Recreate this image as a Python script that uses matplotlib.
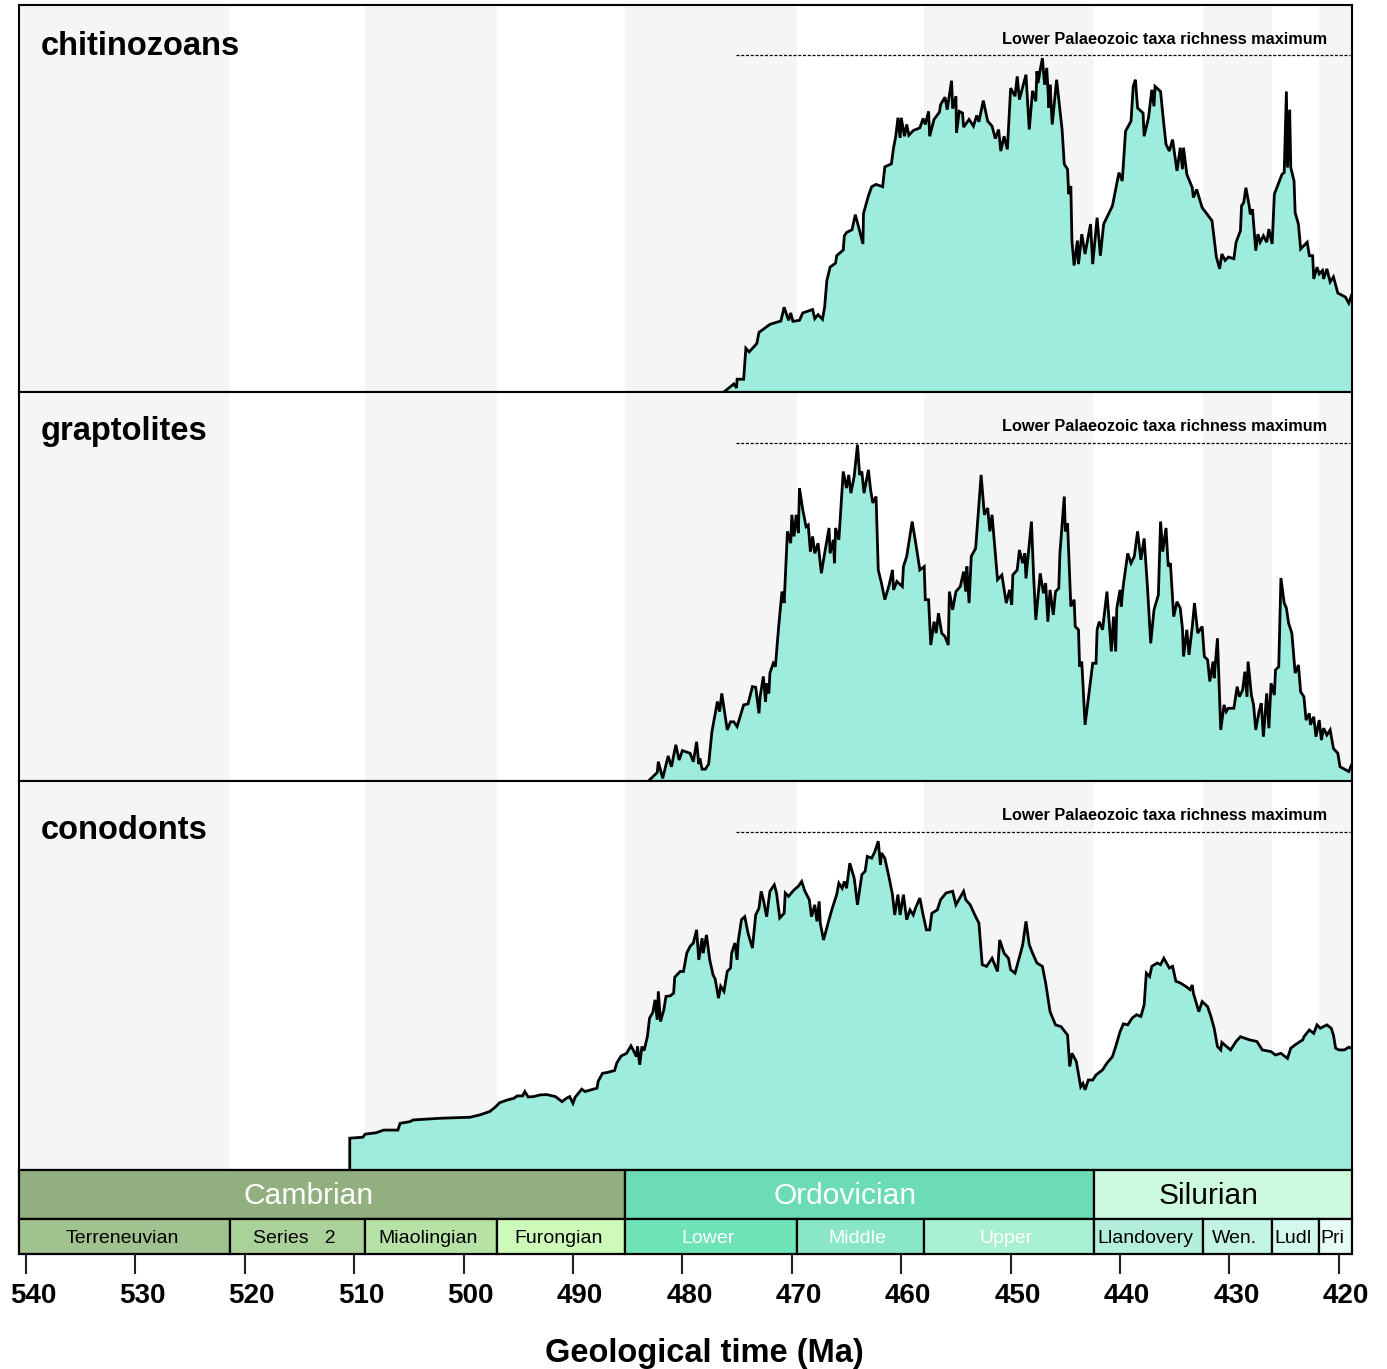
import matplotlib
matplotlib.use("Agg")
import matplotlib.pyplot as plt
import matplotlib.transforms as mtransforms
from matplotlib.patches import Rectangle

plt.rcParams['font.family'] = ['Liberation Sans', 'DejaVu Sans']

# =============================================================================
# DATA  (age in Ma, richness as % of the Lower Palaeozoic maximum)
# =============================================================================

chit_age = [
    476.2, 475.3, 475.05, 475.0, 474.4, 474.2, 473.9, 473.2, 473.0, 472.0,
    471.0, 470.7, 470.3, 470.1, 469.9, 469.3, 469.0, 468.1, 467.9, 467.6,
    467.2, 467.0, 466.8, 466.5, 466.0, 465.9, 465.3, 465.2, 465.0, 464.5,
    464.2, 463.8, 463.5, 463.45, 463.3, 463.0, 462.7, 462.3, 461.7, 461.5,
    460.9, 460.7, 460.5, 460.3, 460.1, 460.0, 459.7, 459.5, 459.3, 458.9,
    458.3, 458.0, 457.8, 457.5, 457.4, 457.0, 456.5, 456.4, 456.0, 455.8,
    455.4, 455.3, 455.0, 454.95, 454.7, 454.4, 454.3, 453.8, 453.4, 453.1,
    452.9, 452.5, 452.1, 451.7, 451.4, 451.1, 450.9, 450.6, 450.3, 450.0,
    449.6, 449.4, 449.2, 448.6, 448.3, 448.0, 447.7, 447.6, 447.5, 447.3,
    447.1, 446.9, 446.7, 446.5, 446.4, 446.2, 445.8, 445.3, 445.1, 444.8,
    444.7, 444.5, 444.4, 444.2, 443.9, 443.8, 443.5, 443.2, 442.7, 442.5,
    442.1, 441.8, 441.5, 440.7, 440.1, 439.8, 439.5, 439.0, 438.8, 438.6,
    438.4, 437.9, 437.8, 437.4, 437.1, 436.9, 436.8, 436.3, 436.0, 435.8,
    435.5, 435.2, 434.8, 434.5, 434.3, 434.2, 433.9, 433.4, 433.3, 433.0,
    432.5, 431.6, 431.2, 430.9, 430.7, 430.4, 430.1, 429.6, 429.4, 429.0,
    428.9, 428.7, 428.5, 428.2, 428.1, 427.9, 427.6, 427.4, 427.2, 426.9,
    426.6, 426.4, 426.1, 425.9, 425.5, 425.2, 425.0, 424.8, 424.7, 424.5,
    424.4, 424.1, 424.0, 423.7, 423.5, 422.9, 422.7, 422.4, 422.3, 422.0,
    421.8, 421.5, 421.4, 421.1, 420.8, 420.5, 420.1, 419.4, 419.1, 418.85,
]
chit_rich = [
    0.0, 2.4, 1.2, 3.8, 3.8, 13.0, 11.9, 14.4, 17.7, 20.1,
    21.1, 25.2, 21.3, 23.5, 21.0, 21.3, 23.5, 24.5, 21.8, 23.0,
    21.6, 25.2, 33.1, 37.1, 38.3, 40.5, 42.2, 46.4, 47.4, 48.2,
    52.7, 47.9, 44.0, 53.0, 54.8, 58.3, 61.0, 61.7, 61.0, 66.9,
    67.8, 72.6, 76.0, 81.5, 75.5, 81.5, 76.0, 79.5, 76.3, 77.7,
    78.5, 81.3, 79.5, 83.4, 76.0, 81.0, 83.2, 85.4, 87.6, 83.9,
    92.5, 84.2, 87.9, 77.0, 83.4, 82.9, 78.7, 81.0, 79.0, 82.2,
    80.3, 86.6, 80.5, 79.0, 75.3, 78.0, 71.6, 76.0, 72.1, 90.3,
    87.9, 93.8, 86.9, 94.3, 78.0, 89.5, 86.4, 95.3, 91.8, 95.7,
    99.2, 91.3, 96.3, 84.4, 91.3, 79.5, 92.8, 78.0, 67.7, 66.2,
    58.8, 61.2, 45.0, 37.6, 45.0, 38.0, 46.9, 41.0, 49.9, 38.0,
    51.8, 40.5, 49.9, 55.3, 65.2, 62.7, 77.5, 80.5, 90.8, 92.8,
    84.4, 82.9, 76.0, 81.5, 89.8, 84.9, 90.8, 89.3, 79.5, 73.6,
    71.6, 75.0, 65.7, 72.6, 66.2, 72.6, 64.7, 60.7, 57.8, 60.2,
    54.8, 50.9, 40.1, 36.6, 41.0, 39.1, 40.1, 39.6, 44.5, 47.9,
    55.3, 56.3, 60.7, 55.3, 52.8, 54.3, 42.0, 46.9, 44.5, 46.4,
    44.5, 48.4, 44.0, 58.8, 62.2, 64.7, 65.2, 89.3, 66.7, 83.9,
    66.7, 62.7, 53.3, 49.9, 42.5, 44.5, 40.5, 40.5, 33.6, 37.1,
    35.1, 36.1, 33.6, 36.6, 32.7, 34.2, 29.4, 28.2, 26.4, 28.7,
]

grap_age = [
    483.1, 482.3, 482.2, 481.8, 481.3, 481.0, 480.6, 480.3, 480.0, 479.3,
    479.0, 478.7, 478.5, 478.4, 478.2, 477.9, 477.6, 477.3, 476.8, 476.6,
    476.4, 475.9, 475.6, 475.3, 475.0, 474.4, 474.0, 473.6, 473.3, 473.0,
    472.9, 472.6, 472.4, 472.3, 472.1, 472.0, 471.7, 471.5, 471.2, 470.9,
    470.7, 470.4, 470.1, 470.0, 469.8, 469.6, 469.4, 469.3, 469.0, 468.7,
    468.5, 468.3, 468.1, 467.9, 467.6, 467.3, 467.1, 466.6, 466.5, 466.2,
    466.1, 466.0, 465.7, 465.3, 465.0, 464.8, 464.6, 464.3, 464.0, 463.8,
    463.6, 463.4, 463.0, 462.8, 462.6, 462.3, 462.1, 461.8, 461.5, 461.1,
    460.8, 460.7, 460.4, 459.9, 459.8, 459.5, 459.0, 458.6, 458.3, 457.9,
    457.8, 457.5, 457.3, 457.0, 456.8, 456.6, 456.3, 456.0, 455.7, 455.6,
    455.3, 455.0, 454.6, 454.3, 454.1, 454.0, 453.8, 453.6, 453.2, 452.7,
    452.4, 452.1, 451.9, 451.7, 451.2, 450.8, 450.4, 450.1, 449.9, 449.8,
    449.4, 449.2, 448.9, 448.7, 448.6, 448.1, 447.9, 447.7, 447.3, 447.0,
    446.8, 446.6, 446.4, 446.1, 445.9, 445.6, 445.5, 445.1, 445.0, 444.8,
    444.5, 444.2, 444.1, 443.8, 443.7, 443.5, 443.2, 442.5, 442.2, 442.1,
    441.9, 441.6, 441.5, 441.2, 440.8, 440.6, 440.4, 440.3, 440.0, 439.9,
    439.7, 439.3, 439.0, 438.7, 438.4, 438.1, 437.8, 437.5, 437.2, 436.9,
    436.5, 436.3, 436.1, 435.8, 435.6, 435.4, 435.1, 434.8, 434.5, 434.3,
    434.2, 433.9, 433.7, 433.4, 433.2, 432.9, 432.5, 432.3, 432.0, 431.8,
    431.5, 431.4, 431.1, 430.8, 430.5, 430.3, 430.1, 429.6, 429.3, 429.1,
    428.8, 428.6, 428.4, 428.3, 428.0, 427.8, 427.6, 427.3, 427.1, 426.9,
    426.6, 426.4, 426.2, 425.9, 425.8, 425.5, 425.3, 425.0, 424.8, 424.6,
    424.3, 424.0, 423.7, 423.5, 423.2, 423.0, 422.7, 422.6, 422.3, 422.1,
    421.8, 421.6, 421.4, 421.1, 420.8, 420.5, 420.1, 419.9, 419.1, 418.85,
]
grap_rich = [
    0.0, 2.5, 5.7, 0.8, 7.4, 4.2, 10.7, 6.2, 9.0, 8.2,
    5.7, 11.6, 5.0, 6.7, 3.5, 3.5, 5.0, 14.6, 23.5, 20.5,
    25.9, 15.1, 17.5, 17.5, 16.1, 22.5, 22.8, 27.9, 27.7, 20.0,
    24.9, 30.9, 23.5, 28.9, 25.9, 31.9, 34.8, 33.8, 45.7, 56.0,
    52.6, 73.8, 70.3, 78.7, 72.3, 78.7, 73.3, 86.6, 80.2, 75.2,
    75.7, 67.8, 72.3, 67.3, 70.3, 61.4, 65.4, 74.8, 67.3, 71.3,
    64.4, 74.8, 71.3, 91.5, 86.6, 90.5, 85.1, 90.0, 99.4, 90.5,
    91.5, 85.1, 92.0, 86.1, 82.2, 84.1, 62.4, 58.4, 53.6, 58.0,
    62.4, 56.5, 59.0, 57.5, 63.4, 66.4, 76.7, 68.8, 62.4, 63.4,
    53.6, 53.6, 40.2, 47.1, 43.7, 49.6, 43.7, 42.7, 40.2, 56.0,
    50.6, 56.0, 57.5, 61.9, 56.0, 63.4, 52.6, 66.4, 68.8, 90.5,
    78.7, 80.7, 73.8, 78.7, 59.5, 60.9, 52.6, 56.5, 52.1, 60.9,
    62.4, 68.3, 64.4, 67.3, 59.9, 76.7, 60.4, 47.6, 61.4, 55.5,
    58.5, 47.1, 56.5, 49.1, 56.0, 57.0, 67.3, 84.1, 73.8, 76.2,
    51.6, 53.6, 45.7, 44.7, 33.8, 35.3, 16.6, 34.8, 34.8, 44.7,
    47.1, 44.7, 47.6, 56.0, 38.3, 48.6, 38.3, 51.1, 56.5, 51.6,
    58.0, 67.3, 64.4, 66.4, 73.8, 65.4, 71.7, 57.5, 40.7, 50.6,
    55.0, 76.7, 67.8, 74.8, 63.4, 64.4, 48.6, 53.0, 51.1, 45.1,
    36.8, 44.7, 37.3, 45.7, 52.6, 43.7, 45.7, 36.8, 35.8, 29.4,
    35.3, 30.4, 42.2, 15.1, 22.5, 20.5, 21.5, 21.5, 27.9, 24.9,
    26.9, 32.3, 24.9, 35.3, 25.4, 22.5, 15.1, 20.5, 23.0, 13.1,
    25.9, 15.6, 28.9, 25.4, 32.8, 33.8, 60.0, 52.6, 51.1, 46.7,
    43.7, 31.9, 34.3, 26.4, 24.9, 18.0, 20.0, 16.6, 19.0, 13.1,
    18.0, 12.1, 15.6, 13.6, 15.1, 9.6, 8.2, 4.2, 2.8, 4.7,
]

cono_age = [
    510.4, 510.4, 509.2, 509.0, 508.0, 507.3, 506.0, 505.8, 504.9, 504.6,
    502.1, 499.4, 498.5, 497.6, 497.1, 496.7, 496.0, 495.4, 495.1, 494.6,
    494.4, 494.1, 493.6, 493.0, 492.4, 491.6, 491.0, 490.6, 490.3, 490.0,
    489.8, 489.2, 488.9, 487.8, 487.7, 487.3, 486.9, 486.2, 486.0, 485.6,
    485.1, 484.7, 484.5, 484.2, 484.1, 483.9, 483.7, 483.5, 483.2, 483.0,
    482.7, 482.5, 482.3, 482.2, 482.0, 481.7, 481.5, 481.1, 480.8, 480.7,
    480.2, 479.9, 479.6, 479.3, 479.0, 478.7, 478.5, 478.2, 478.1, 477.8,
    477.5, 477.2, 477.0, 476.7, 476.5, 476.2, 475.9, 475.6, 475.5, 475.2,
    475.0, 474.9, 474.6, 474.3, 474.0, 473.6, 473.3, 473.0, 472.8, 472.6,
    472.3, 472.0, 471.6, 471.4, 471.1, 470.7, 470.6, 470.3, 469.8, 469.4,
    469.1, 468.8, 468.4, 468.2, 467.9, 467.7, 467.5, 467.4, 467.1, 466.6,
    466.3, 465.9, 465.7, 465.4, 465.2, 465.0, 464.7, 464.3, 464.0, 463.6,
    463.3, 463.1, 462.7, 462.4, 462.1, 461.9, 461.8, 461.5, 461.1, 460.8,
    460.6, 460.3, 460.1, 459.8, 459.5, 459.2, 458.9, 458.7, 458.3, 458.0,
    457.7, 457.4, 457.2, 456.7, 456.4, 455.9, 455.3, 455.0, 454.7, 454.3,
    454.1, 453.7, 453.2, 452.9, 452.6, 452.2, 451.7, 451.2, 451.0, 450.6,
    450.2, 450.0, 449.6, 449.1, 448.9, 448.6, 448.3, 448.0, 447.6, 447.1,
    446.8, 446.4, 445.9, 445.4, 444.8, 444.6, 444.4, 444.0, 443.6, 443.4,
    443.2, 442.9, 442.5, 442.2, 441.6, 441.2, 440.7, 440.4, 440.0, 439.7,
    439.3, 438.9, 438.5, 438.1, 437.8, 437.6, 437.3, 437.1, 436.6, 436.3,
    436.0, 435.5, 435.2, 434.9, 434.5, 434.0, 433.6, 433.4, 433.3, 432.8,
    432.5, 432.0, 431.7, 431.4, 431.1, 430.8, 430.7, 429.9, 429.4, 429.0,
    428.2, 427.5, 427.0, 426.2, 425.8, 425.3, 424.7, 424.4, 424.0, 423.3,
    423.2, 422.7, 422.3, 422.0, 421.7, 421.1, 420.7, 420.5, 420.3, 420.0,
    419.5, 419.1, 418.85,
]
cono_rich = [
    0.0, 9.4, 9.7, 10.6, 11.0, 11.8, 11.8, 13.8, 14.3, 14.8,
    15.3, 15.6, 16.3, 17.3, 18.6, 19.9, 20.7, 21.2, 21.9, 21.9,
    23.2, 21.6, 21.7, 22.2, 22.3, 21.7, 20.2, 21.2, 21.7, 19.7,
    21.5, 23.9, 23.2, 24.2, 26.2, 28.6, 28.8, 29.4, 31.6, 33.7,
    34.5, 36.7, 35.5, 33.5, 36.5, 31.1, 36.5, 35.3, 39.4, 44.9,
    46.6, 50.3, 44.4, 52.8, 43.9, 47.3, 51.3, 51.5, 52.3, 57.0,
    58.7, 58.7, 64.1, 66.1, 67.1, 71.0, 62.1, 68.5, 64.1, 69.5,
    62.1, 57.7, 56.4, 50.8, 54.3, 52.8, 58.7, 59.7, 64.1, 67.1,
    62.1, 67.6, 74.0, 74.9, 70.0, 65.6, 75.4, 77.4, 82.4, 79.9,
    74.9, 82.4, 84.3, 81.9, 74.5, 75.9, 81.9, 80.9, 82.8, 83.9,
    85.3, 82.4, 79.9, 74.9, 78.4, 73.5, 79.4, 73.0, 68.0, 74.0,
    77.4, 81.4, 84.8, 83.3, 85.3, 83.3, 90.7, 86.3, 78.4, 87.3,
    88.3, 92.7, 92.2, 94.2, 97.2, 90.2, 93.7, 92.2, 86.3, 81.4,
    75.4, 81.4, 75.4, 81.4, 74.0, 76.9, 75.4, 77.4, 80.4, 75.4,
    71.0, 71.0, 75.9, 76.9, 79.9, 81.9, 82.4, 78.4, 80.1, 82.4,
    79.9, 78.4, 74.9, 73.0, 60.7, 60.2, 62.6, 58.7, 68.0, 64.1,
    62.6, 59.2, 58.2, 64.1, 66.6, 73.5, 66.6, 64.1, 61.2, 60.2,
    55.3, 46.8, 42.9, 42.4, 39.9, 30.6, 34.5, 32.1, 24.6, 25.6,
    23.7, 26.6, 26.6, 28.1, 29.6, 31.6, 33.5, 36.5, 40.9, 43.2,
    42.9, 44.9, 45.9, 45.4, 48.8, 58.2, 57.2, 60.2, 61.2, 60.7,
    62.6, 59.7, 60.2, 55.8, 55.3, 54.3, 53.3, 54.7, 52.3, 46.8,
    49.8, 48.3, 45.4, 41.9, 36.5, 35.5, 37.7, 35.5, 38.0, 39.4,
    38.5, 38.0, 35.5, 35.0, 34.0, 34.5, 33.0, 36.0, 37.0, 38.5,
    39.4, 41.4, 40.4, 42.9, 41.9, 42.9, 41.9, 39.9, 36.0, 35.5,
    35.5, 36.3, 36.0,
]

group_names = ['chitinozoans', 'graptolites', 'conodonts']
group_ages = [chit_age, grap_age, cono_age]
group_rich = [chit_rich, grap_rich, cono_rich]

# geological time scale (boundaries in Ma, as drawn)
series_bounds = [540.6, 521.3, 509.0, 496.9, 485.2, 469.5, 457.9, 442.4,
                 432.4, 426.1, 421.8, 418.85]
series_names = ['Terreneuvian', 'Series   2', 'Miaolingian', 'Furongian',
                'Lower', 'Middle', 'Upper',
                'Llandovery', 'Wen.', 'Ludl', 'Pri']
series_colors = ['#9fc28e', '#aad199', '#b6e2a6', '#cdfab9',
                 '#6de3b7', '#89e7c8', '#a7f1d2',
                 '#b4efdc', '#c2f3e3', '#d3f8ed', '#e7fcf4']
series_text = ['black', 'black', 'black', 'black',
               'white', 'white', 'white',
               'black', 'black', 'black', 'black']

period_bounds = [540.6, 485.2, 442.4, 418.85]
period_names = ['Cambrian', 'Ordovician', 'Silurian']
period_colors = ['#92b07f', '#6bdcb5', '#cdf9de']
period_text = ['white', 'white', 'black']

max_line = (475.1, 419.0)   # extent of the richness maximum line
max_value = 100.0

# =============================================================================
# FIGURE
# =============================================================================

FILL = '#9decdd'
GREY = '#f5f5f5'
X_LEFT, X_RIGHT = 540.6, 418.85
Y_TOP = 115.0

W, H = 1387, 1369
fig = plt.figure(figsize=(W / 100, H / 100), dpi=100)


def px_axes(x0, y0, x1, y1):
    """Axes from a pixel box (y measured from the top)."""
    return fig.add_axes([x0 / W, 1 - y1 / H, (x1 - x0) / W, (y1 - y0) / H])


def px_shift(dx, dy=0):
    return mtransforms.ScaledTranslation(dx / 100, dy / 100, fig.dpi_scale_trans)


panel_boxes = [(19.3, 5, 1351.5, 392), (19.3, 392, 1351.5, 781),
               (19.3, 781, 1351.5, 1170)]
name_y = [0.871, 0.877, 0.851]

for box, name, ages, rich, ny in zip(panel_boxes, group_names, group_ages,
                                     group_rich, name_y):
    ax = px_axes(*box)
    ax.set_xlim(X_LEFT, X_RIGHT)
    ax.set_ylim(0, Y_TOP)

    for i in range(len(series_bounds) - 1):
        if i % 2 == 0:
            ax.axvspan(series_bounds[i], series_bounds[i + 1], color=GREY,
                       lw=0, zorder=0)

    ax.fill_between(ages, rich, 0, color=FILL, lw=0, zorder=2)
    ax.plot(ages, rich, color='black', lw=2.0, zorder=3,
            solid_joinstyle='miter')

    ax.plot(max_line, [max_value, max_value], color='black', lw=0.9,
            dashes=(2.4, 1.4), zorder=3)
    ax.text(0.9816, 0.9, 'Lower Palaeozoic taxa richness maximum',
            transform=ax.transAxes, ha='right', va='baseline',
            fontsize=11.7, fontweight='bold')
    ax.text(0.0163, ny, name, transform=ax.transAxes, ha='left',
            va='baseline', fontsize=23.5, fontweight='bold')

    ax.set_xticks([])
    ax.set_yticks([])
    for sp in ax.spines.values():
        sp.set_linewidth(1.5)
        sp.set_color('black')
        sp.set_zorder(5)

# --- time scale bar ---
ts = px_axes(19.3, 1170, 1351.5, 1254)
ts.set_xlim(X_LEFT, X_RIGHT)
ts.set_ylim(0, 1)
split = 0.417

for i, (nm, col, tc) in enumerate(zip(period_names, period_colors, period_text)):
    a, b = period_bounds[i], period_bounds[i + 1]
    ts.add_patch(Rectangle((b, split), a - b, 1 - split, facecolor=col,
                           edgecolor='black', lw=1.6, clip_on=False))
    ts.text((a + b) / 2, (split + 1) / 2, nm, ha='center', va='center',
            fontsize=21.6, color=tc,
            transform=ts.transData + px_shift(-14, -2))

for i, (nm, col, tc) in enumerate(zip(series_names, series_colors, series_text)):
    a, b = series_bounds[i], series_bounds[i + 1]
    ts.add_patch(Rectangle((b, 0), a - b, split, facecolor=col,
                           edgecolor='black', lw=1.6, clip_on=False))
    ts.text((a + b) / 2, split / 2, nm, ha='center', va='center',
            fontsize=14, color=tc,
            transform=ts.transData + px_shift(-3, -2))

for sp in ts.spines.values():
    sp.set_visible(False)
ts.set_yticks([])
ts.set_xticks(list(range(540, 419, -10)))
ts.tick_params(axis='x', direction='out', length=14.5, width=1.5,
               color='#222222', pad=6.5, labelsize=20)
for lab in ts.get_xticklabels():
    lab.set_fontweight('bold')
    lab.set_transform(lab.get_transform() + px_shift(7))

fig.text(704 / W, 1 - 1362 / H, 'Geological time (Ma)', ha='center',
         va='baseline', fontsize=23.5, fontweight='bold')

fig.savefig('out.png', dpi=100)
